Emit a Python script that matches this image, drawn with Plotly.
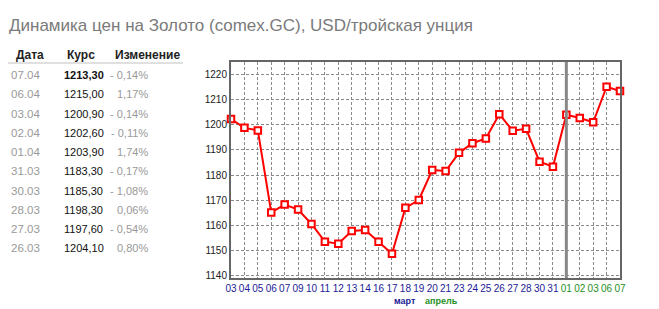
import plotly.graph_objects as go

# ---- data ----
day_labels = ["03", "04", "05", "06", "07", "09", "10", "11", "12", "13", "14", "16", "17",
              "18", "19", "20", "21", "23", "24", "25", "26", "27", "28", "30", "31",
              "01", "02", "03", "06", "07"]
month_of_label = ["mar"] * 25 + ["apr"] * 5
prices = [1202.2, 1198.7, 1197.7, 1165.2, 1168.3, 1166.3, 1160.6, 1153.6, 1152.8, 1157.8,
          1158.2, 1153.6, 1148.8, 1167.0, 1170.1, 1182.0, 1181.6, 1188.8, 1192.6, 1194.5,
          1204.1, 1197.6, 1198.3, 1185.3, 1183.3, 1203.9, 1202.6, 1200.9, 1215.0, 1213.3]
y_ticks = [1140, 1150, 1160, 1170, 1180, 1190, 1200, 1210, 1220]

table_dates = ["07.04", "06.04", "03.04", "02.04", "01.04", "31.03", "30.03", "28.03", "27.03", "26.03"]
table_rates = ["1213,30", "1215,00", "1200,90", "1202,60", "1203,90", "1183,30", "1185,30",
               "1198,30", "1197,60", "1204,10"]
table_changes = ["- 0,14%", "1,17%", "- 0,14%", "- 0,11%", "1,74%", "- 0,17%", "- 1,08%",
                 "0,06%", "- 0,54%", "0,80%"]
table_headers = ["Дата", "Курс", "Изменение"]
title_text = "Динамика цен на Золото (comex.GC), USD/тройская унция"

W, H = 659, 309
L, R, T, B = 231, 620, 62, 278
MAR_COLOR = "#1c1c96"
APR_COLOR = "#1f8f1f"
FONT = "Liberation Sans, Arial, sans-serif"

def px(x):
    return (x - L) / (R - L)

def py(y):
    return (B - y) / (B - T)

xs = list(range(len(prices)))
ticktext = []
for lab, m in zip(day_labels, month_of_label):
    c = MAR_COLOR if m == "mar" else APR_COLOR
    ticktext.append(f'<span style="color:{c}">{lab}</span>')

fig = go.Figure()
fig.add_trace(go.Scatter(
    x=xs, y=prices, mode="lines+markers",
    line=dict(color="#ff0000", width=2),
    marker=dict(symbol="square", size=6.5, color="white", line=dict(color="#ff0000", width=2)),
    cliponaxis=False, hoverinfo="skip", showlegend=False,
))

fig.update_layout(
    width=W, height=H,
    margin=dict(l=L, r=W - R, t=T, b=H - B),
    paper_bgcolor="white", plot_bgcolor="white",
    font=dict(family=FONT, size=10, color="#333"),
    xaxis=dict(range=[0, len(prices) - 1], tickvals=xs, ticktext=ticktext, tickangle=0,
               showgrid=True, gridcolor="#8a8a8a", griddash="3px,2px", gridwidth=1,
               showline=True, mirror=True, linecolor="#666", linewidth=2,
               ticks="", zeroline=False, fixedrange=True,
               tickfont=dict(size=10, family=FONT)),
    yaxis=dict(range=[1139.2, 1224.8], tickvals=y_ticks,
               showgrid=True, gridcolor="#8a8a8a", griddash="3px,2px", gridwidth=1,
               showline=True, mirror=True, linecolor="#666", linewidth=2,
               ticks="", zeroline=False, fixedrange=True,
               tickfont=dict(size=10, color="#222", family=FONT)),
)

# month separator
fig.add_shape(type="line", xref="x", yref="paper", x0=25, x1=25, y0=0, y1=1,
              line=dict(color="#888", width=3), layer="above")

ann = []
# title
ann.append(dict(x=px(7), y=py(25), xref="paper", yref="paper", xanchor="left", yanchor="middle",
                text=title_text, showarrow=False,
                font=dict(size=17, color="#7a7a7a", family=FONT)))
# month labels
ann.append(dict(x=px(418), y=py(301), xref="paper", yref="paper", xanchor="right", yanchor="middle",
                text="<b>март</b>", showarrow=False, font=dict(size=9, color=MAR_COLOR, family=FONT)))
ann.append(dict(x=px(423), y=py(301), xref="paper", yref="paper", xanchor="left", yanchor="middle",
                text="<b>апрель</b>", showarrow=False, font=dict(size=9, color=APR_COLOR, family=FONT)))
# table headers
hx = [14, 65, 113]
for h, x0 in zip(table_headers, hx):
    ann.append(dict(x=px(x0), y=py(55), xref="paper", yref="paper", xanchor="left", yanchor="middle",
                    text=f"<b>{h}</b>", showarrow=False, font=dict(size=12, color="#222", family=FONT)))
fig.add_shape(type="line", xref="paper", yref="paper", x0=px(8), x1=px(183), y0=py(63), y1=py(63),
              line=dict(color="#e0e0e0", width=2))
for i, (d, r, c) in enumerate(zip(table_dates, table_rates, table_changes)):
    yy = 75 + i * 19.25
    ann.append(dict(x=px(9), y=py(yy), xref="paper", yref="paper", xanchor="left", yanchor="middle",
                    text=d, showarrow=False, font=dict(size=11.5, color="#999", family=FONT)))
    rt = f"<b>{r}</b>" if i == 0 else r
    ann.append(dict(x=px(62), y=py(yy), xref="paper", yref="paper", xanchor="left", yanchor="middle",
                    text=rt, showarrow=False, font=dict(size=11, color="#111", family=FONT)))
    ann.append(dict(x=px(150), y=py(yy), xref="paper", yref="paper", xanchor="right", yanchor="middle",
                    text=c, showarrow=False, font=dict(size=11, color="#999", family=FONT)))
fig.update_layout(annotations=ann)

fig.write_html("out.html", config={"displayModeBar": False})
